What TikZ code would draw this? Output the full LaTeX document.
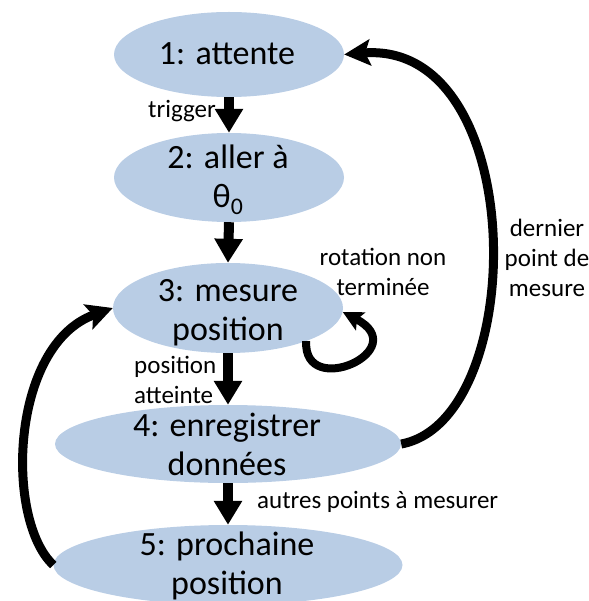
\documentclass[tikz,border=0pt]{standalone}
\usepackage{fontspec}
\setmainfont{Carlito}
\usetikzlibrary{arrows.meta,shapes.geometric}
\definecolor{stfill}{RGB}{185,205,229}
\begin{document}
\begin{tikzpicture}[x=1pt,y=-1pt,
  state/.style={ellipse, fill=stfill, inner sep=0pt},
  bigtxt/.style={font=\fontsize{34pt}{39pt}\selectfont, align=center, inner sep=0pt},
  smalltxt/.style={font=\fontsize{25pt}{30pt}\selectfont, inner sep=0pt},
  straightarrow/.style={line width=10pt, -{Triangle[length=24pt,width=27pt]}},
  curvearrow/.style={line width=9pt, -{Stealth[length=26pt,width=26pt,inset=5pt]}},
  loopa/.style={line width=8pt, -{Stealth[length=20pt,width=20pt,inset=4pt]}}]
\useasboundingbox (0,0) rectangle (588,601);
% states
\node[state, minimum width=230pt, minimum height=85pt] (n1) at (229,54.5) {};
\node[state, minimum width=230pt, minimum height=89pt] (n2) at (229,177.5) {};
\node[state, minimum width=230pt, minimum height=90pt] (n3) at (228,308) {};
\node[state, minimum width=346pt, minimum height=78pt] (n4) at (228,444) {};
\node[state, minimum width=349pt, minimum height=80pt] (n5) at (228,565) {};
% connectors
\draw[straightarrow] (n1.south) -- (n2.north);
\draw[straightarrow] (n2.south) -- (n3.north);
\draw[straightarrow] (n3.south) -- (n4.north);
\draw[straightarrow] (n4.south) -- (n5.north);
\draw[loopa] (n3.-23) .. controls (303,400) and (415,350) .. (n3.-2);
\draw[curvearrow] (n4.east) .. controls (530,420) and (530,40) .. (n1.east);
\draw[curvearrow] (n5.west) .. controls (5,520) and (10,345) .. (n3.west);
% state texts (anchor=base is the baseline of the last line)
\node[bigtxt, anchor=base] (t1) at (227,65) {1: attente};
\node[bigtxt, anchor=base] (t2) at (228,208) {2: aller à\\θ\textsubscript{0}};
\node[bigtxt, anchor=base] (t3) at (228,340) {3: mesure\\position};
\node[bigtxt, anchor=base] (t4) at (227,475) {4: enregistrer\\données};
\node[bigtxt, anchor=base] (t5) at (227,594) {5: prochaine\\position};
% transition labels
\node[smalltxt, anchor=base west] (l1) at (148,118) {trigger};
\node[smalltxt, align=center, anchor=base] (l2) at (383,295) {rotation non\\terminée};
\node[smalltxt, align=center, anchor=base] (l3) at (547,296) {dernier\\point de\\mesure};
\node[smalltxt, align=left, anchor=base west] (l4) at (134,403) {position\\atteinte};
\node[smalltxt, anchor=base west] (l5) at (257,508) {autres points à mesurer};
\end{tikzpicture}
\end{document}
